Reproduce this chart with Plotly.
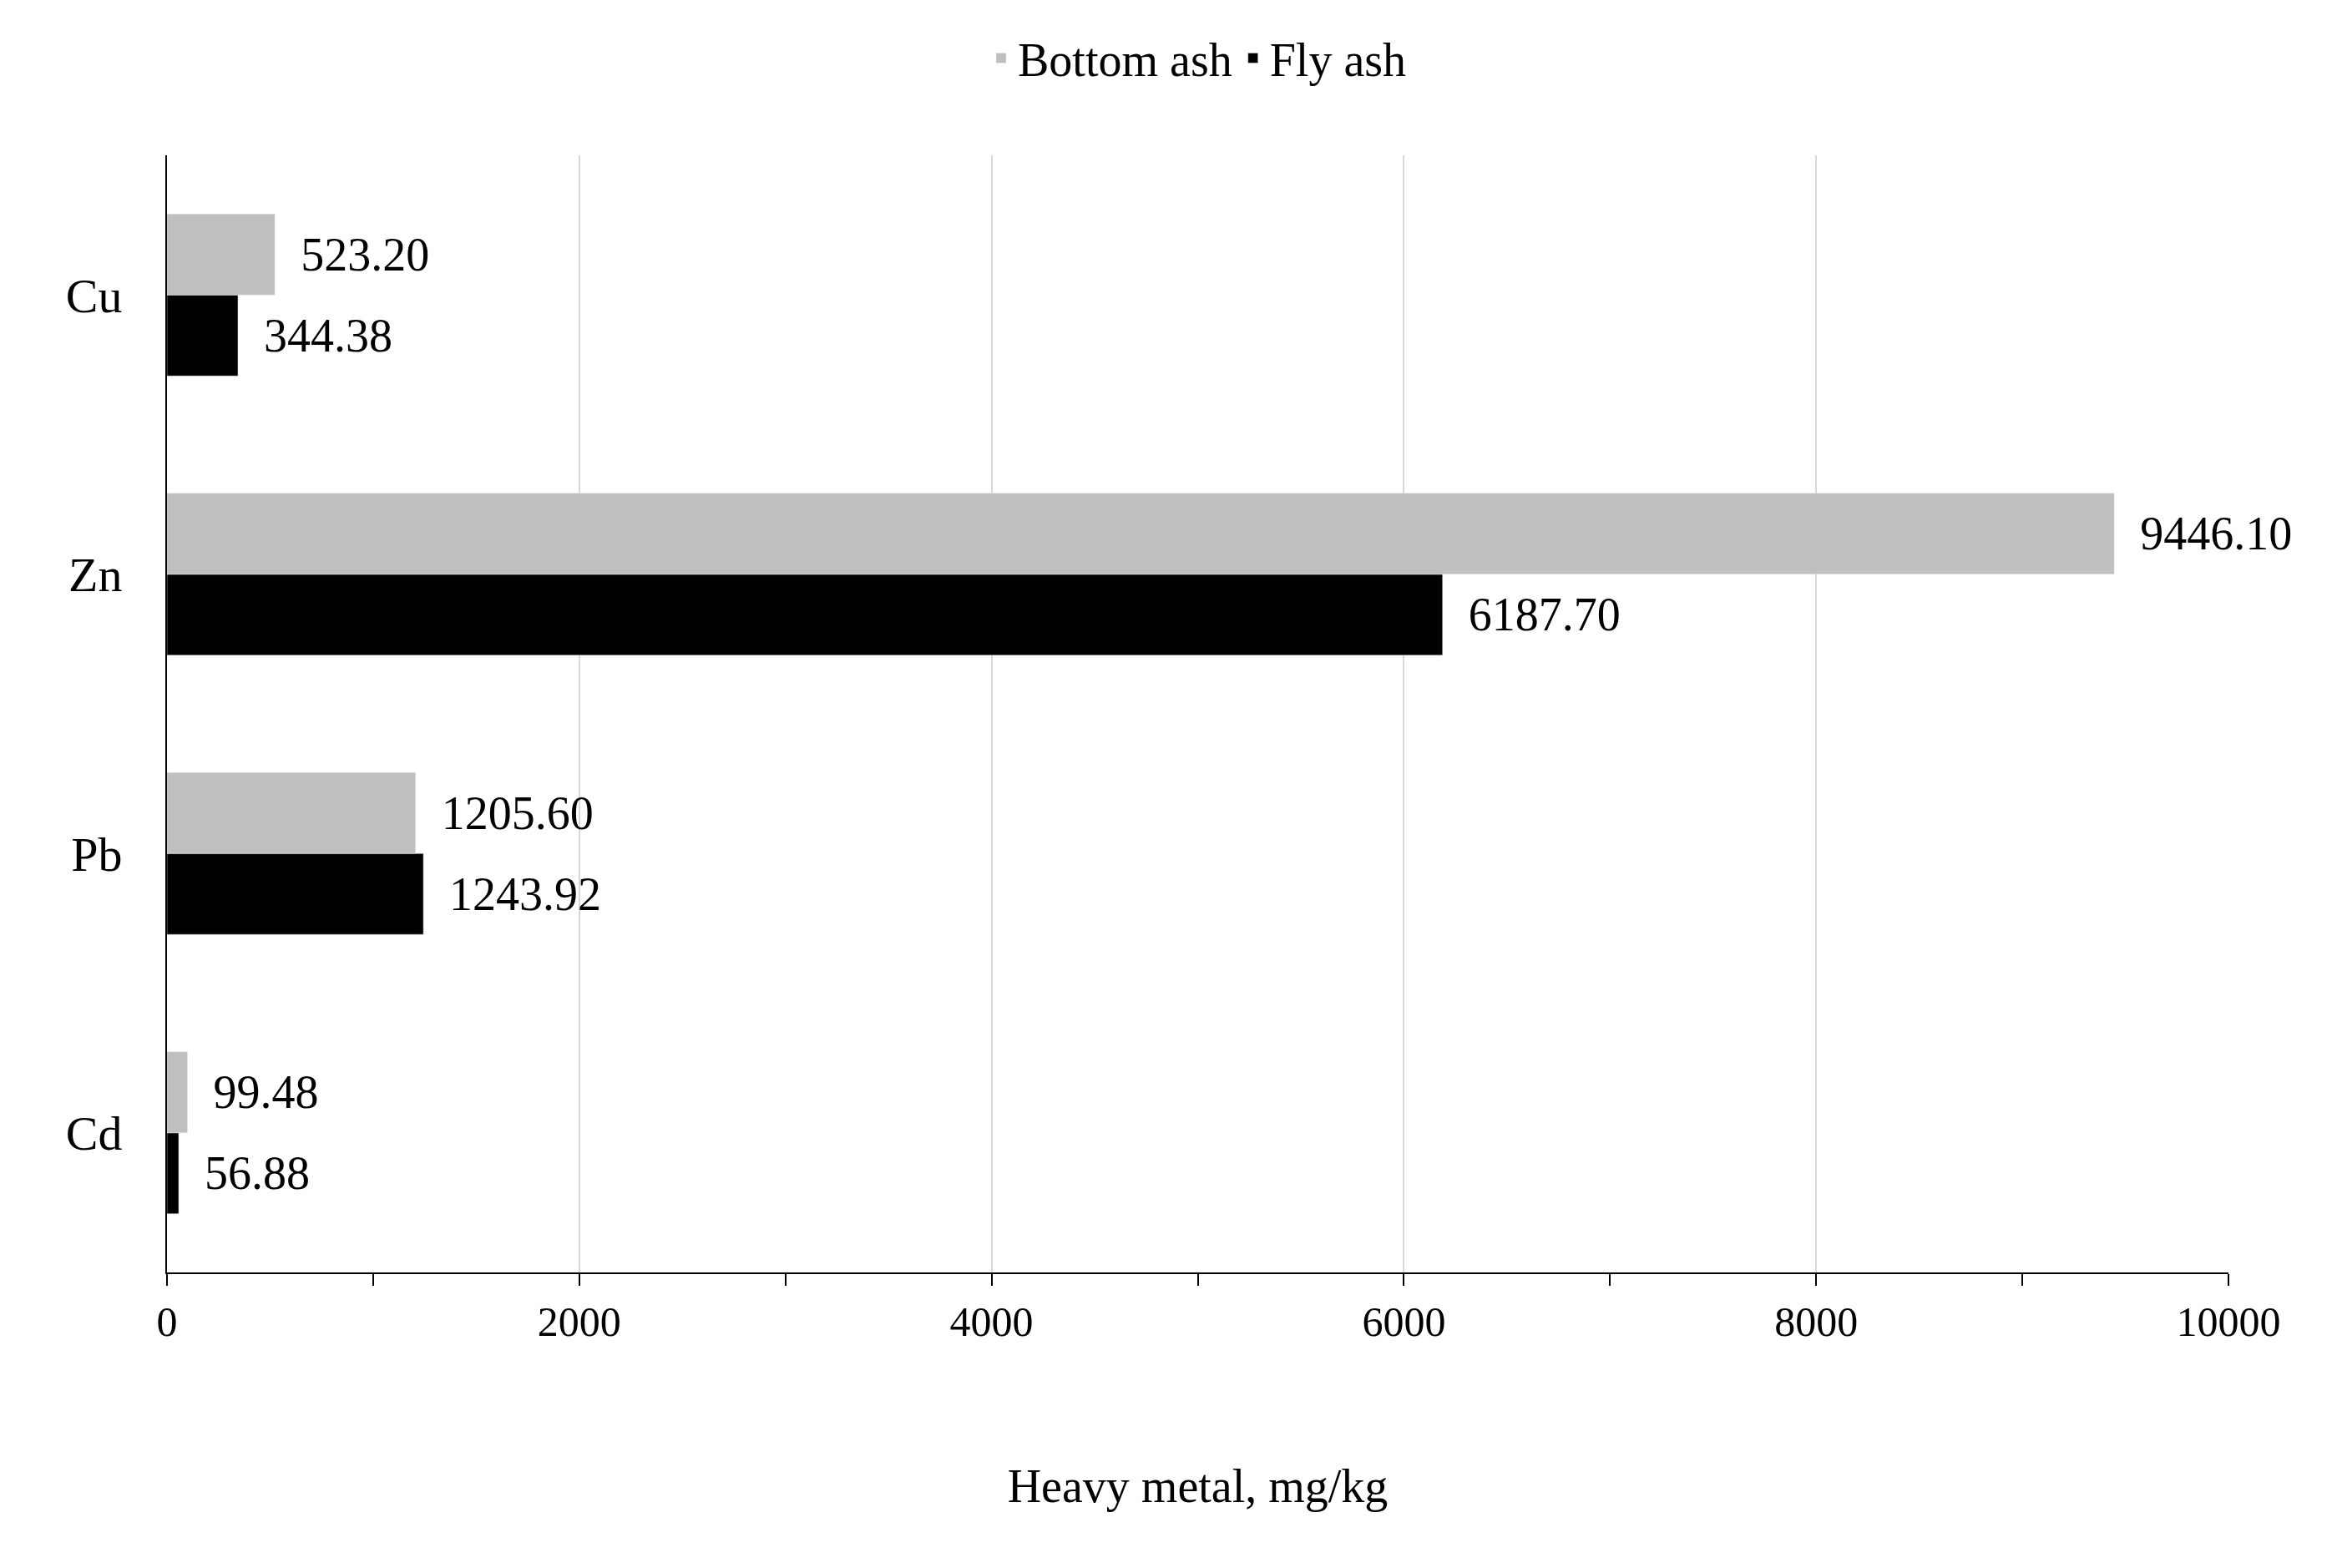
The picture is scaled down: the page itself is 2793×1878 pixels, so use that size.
import plotly.graph_objects as go

metals = ["Cu", "Zn", "Pb", "Cd"]
bottom_ash = [523.20, 9446.10, 1205.60, 99.48]
fly_ash = [344.38, 6187.70, 1243.92, 56.88]
tick_vals = [0, 2000, 4000, 6000, 8000, 10000]
tick_text = ["0", "2000", "4000", "6000", "8000", "10000"]

font = "Liberation Serif"

fig = go.Figure()
# fly ash first so it sits below bottom ash inside each group
fig.add_trace(go.Bar(y=metals, x=fly_ash, name="Fly ash", orientation="h",
                     marker_color="black", text=fly_ash, texttemplate="  %{x:.2f}",
                     textposition="outside", cliponaxis=False,
                     textfont=dict(color="black", size=56, family=font)))
fig.add_trace(go.Bar(y=metals, x=bottom_ash, name="Bottom ash", orientation="h",
                     marker_color="#bfbfbf", text=bottom_ash, texttemplate="  %{x:.2f}",
                     textposition="outside", cliponaxis=False,
                     textfont=dict(color="black", size=56, family=font)))

fig.update_layout(
    width=2793, height=1878,
    barmode="group", bargap=0.42, bargroupgap=0,
    plot_bgcolor="white", paper_bgcolor="white",
    font=dict(family=font, size=52, color="black"),
    margin=dict(l=192, r=132, t=178, b=362),
    legend=dict(orientation="h", traceorder="reversed", x=0.5, xanchor="center",
                y=1.087, yanchor="middle", font=dict(size=56)),
    xaxis=dict(range=[0, 10000], tickvals=tick_vals, ticktext=tick_text,
               showgrid=True, gridcolor="#d9d9d9", gridwidth=2,
               showline=True, linecolor="black", linewidth=2,
               ticks="outside", ticklen=14, tickwidth=2, tickcolor="black",
               minor=dict(dtick=1000, ticks="outside", ticklen=14, tickwidth=2,
                          tickcolor="black", showgrid=False),
               zeroline=False, tickfont=dict(size=50),
               title=dict(text="Heavy metal, mg/kg", font=dict(size=56), standoff=150)),
    yaxis=dict(categoryorder="array", categoryarray=["Cd", "Pb", "Zn", "Cu"],
               showline=True, linecolor="black", linewidth=2,
               showgrid=False, ticks="", ticklabelstandoff=40,
               tickfont=dict(size=58)),
)

fig.write_html("out.html")
